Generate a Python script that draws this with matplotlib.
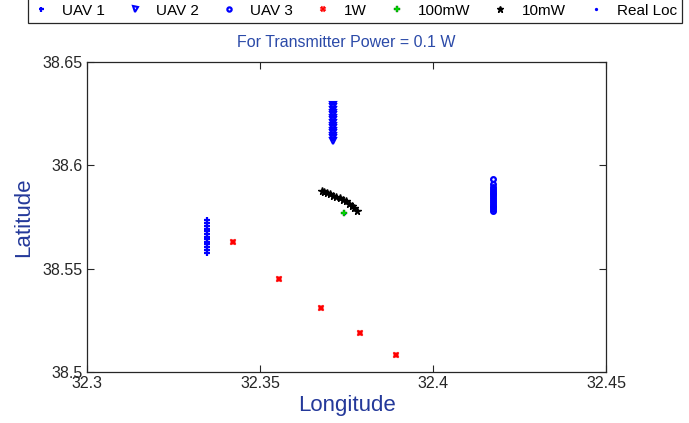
import matplotlib
matplotlib.use("Agg")
import matplotlib.pyplot as plt

plt.rcParams['font.family'] = ['Liberation Sans', 'DejaVu Sans']

# ---- data ----
uav1_lon = [32.3346] * 13
uav1_lat = [38.5575, 38.5590, 38.5604, 38.5617, 38.5630, 38.5643, 38.5655,
            38.5667, 38.5680, 38.5694, 38.5708, 38.5722, 38.5735]
uav2_lon = [32.3712] * 15
uav2_lat = [38.6117, 38.6130, 38.6142, 38.6155, 38.6167, 38.6180, 38.6192,
            38.6205, 38.6217, 38.6230, 38.6242, 38.6255, 38.6267, 38.6280, 38.6290]
uav3_lon = [32.4172] * 16
uav3_lat = [38.5778, 38.5787, 38.5796, 38.5805, 38.5814, 38.5823, 38.5832,
            38.5841, 38.5850, 38.5859, 38.5868, 38.5877, 38.5886, 38.5897,
            38.5910, 38.5935]
w1_lon = [32.3422, 32.3555, 32.3676, 32.3789, 32.3893]
w1_lat = [38.5630, 38.5452, 38.5308, 38.5187, 38.5082]
mw100_lon = [32.3744]
mw100_lat = [38.5768]
mw10_lon = [32.3678, 32.3686, 32.3694, 32.3703, 32.3712, 32.3721, 32.3730,
            32.3739, 32.3748, 32.3757, 32.3765, 32.3773, 32.3781]
mw10_lat = [38.5876, 38.5871, 38.5866, 38.5860, 38.5854, 38.5848, 38.5840,
            38.5833, 38.5825, 38.5815, 38.5804, 38.5792, 38.5779]
real_lon = [32.3744]
real_lat = [38.5768]

title = "For Transmitter Power = 0.1 W"
xticks = [32.3, 32.35, 32.4, 32.45]
xticklabels = ["32.3", "32.35", "32.4", "32.45"]
yticks = [38.5, 38.55, 38.6, 38.65]
yticklabels = ["38.5", "38.55", "38.6", "38.65"]

# ---- figure ----
fig = plt.figure(figsize=(6.89, 4.23), dpi=100)
ax = fig.add_axes([87/689, 1-372/423, (606-87)/689, (372-62)/423])

h1, = ax.plot(uav1_lon, uav1_lat, ls='none', marker='+', color='#0000ff', ms=4, mew=1.6)
h2, = ax.plot(uav2_lon, uav2_lat, ls='none', marker='v', color='#0000ff', ms=4, mfc='none', mew=1.5)
h3, = ax.plot(uav3_lon, uav3_lat, ls='none', marker='o', color='#0000ff', ms=3.4, mfc='none', mew=1.6)
h4, = ax.plot(w1_lon, w1_lat, ls='none', marker='X', color='#ff0000', ms=4.5, mew=0.3)
h7, = ax.plot(real_lon, real_lat, ls='none', marker='.', color='#0000ff', ms=3)
h5, = ax.plot(mw100_lon, mw100_lat, ls='none', marker='P', color='#00dd00', ms=4.5, mec='#006600', mew=0.3)
h6, = ax.plot(mw10_lon, mw10_lat, ls='none', marker='*', color='black', ms=5.5, mew=1.0)

ax.set_xlim(32.3, 32.45)
ax.set_ylim(38.5, 38.65)
ax.set_xticks(xticks)
ax.set_xticklabels(xticklabels)
ax.set_yticks(yticks)
ax.set_yticklabels(yticklabels)
ax.tick_params(direction='in', length=5, width=0.8, top=True, right=True,
               labelsize=11.5, labelcolor='#262626', colors='#262626', pad=3)
for s in ax.spines.values():
    s.set_color('#262626')
    s.set_linewidth(0.9)

ax.set_title(title, fontsize=11.5, color='#2b4aa8', pad=11)
ax.set_xlabel("Longitude", fontsize=16, color='#24399a', labelpad=3)
ax.set_ylabel("Latitude", fontsize=16, color='#24399a', labelpad=6)

leg = fig.legend([h1, h2, h3, h4, h5, h6, h7],
                 ["UAV 1", "UAV 2", "UAV 3", "1W", "100mW", "10mW", "Real Loc"],
                 loc='lower center', bbox_to_anchor=(355/689, 1-23/423),
                 ncol=7, fontsize=11, frameon=True, fancybox=False,
                 edgecolor='#262626', framealpha=1, handlelength=1.0,
                 handletextpad=0.9, columnspacing=1.45, borderpad=0.35,
                 borderaxespad=0.0, markerscale=0.9)
leg.get_frame().set_linewidth(0.9)

fig.savefig("out.png", dpi=100)
